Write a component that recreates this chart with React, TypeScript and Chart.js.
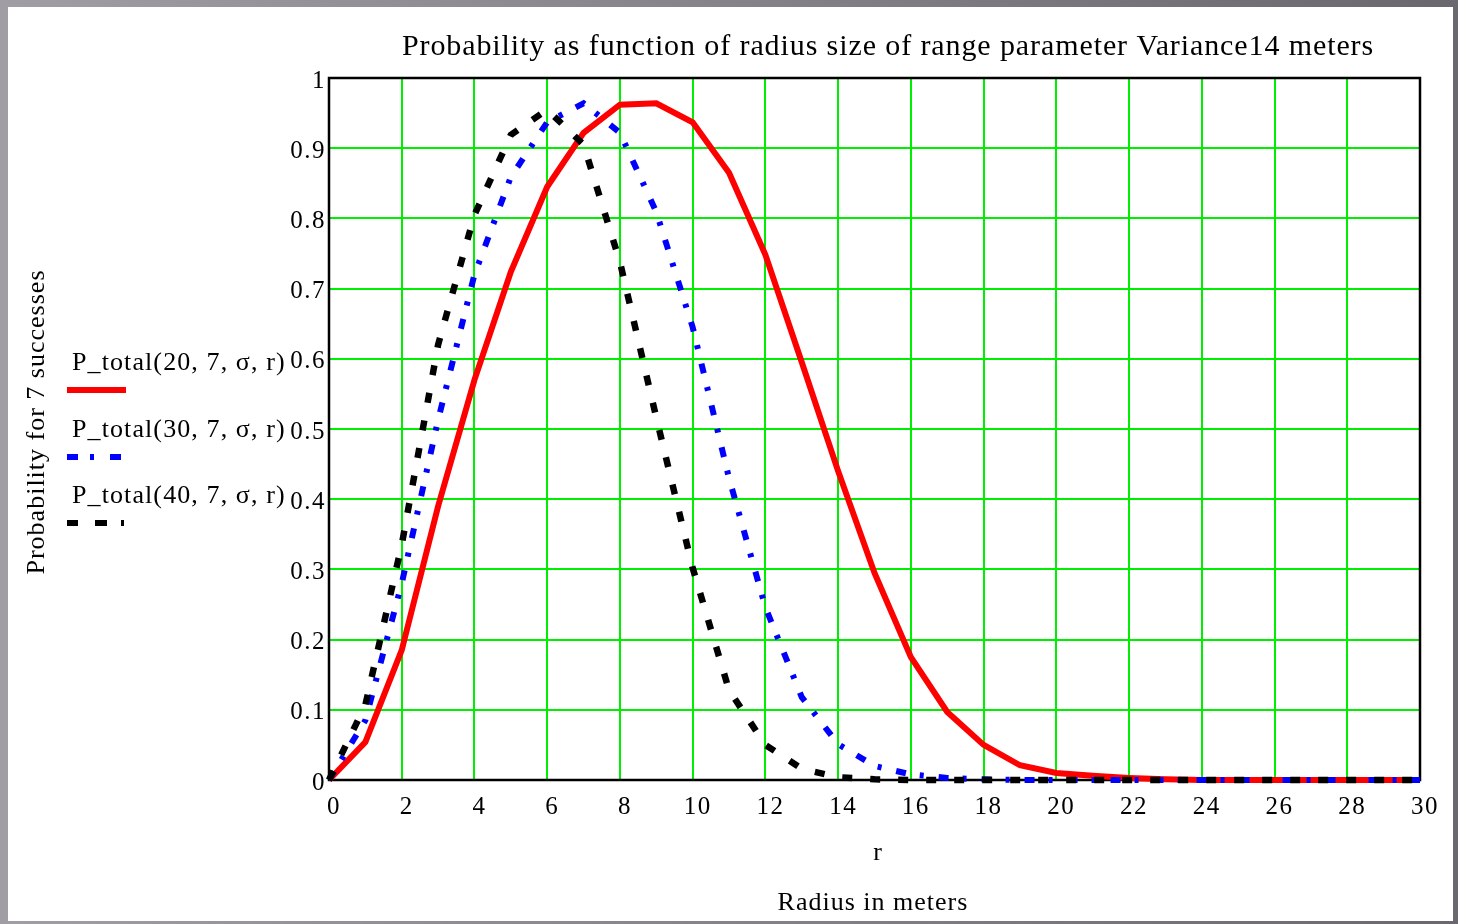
import React, { useEffect, useRef } from 'react';
import { Chart, registerables } from 'chart.js';

Chart.register(...registerables);

const RADIUS = [0, 1, 2, 3, 4, 5, 6, 7, 8, 9, 10, 11, 12, 13, 14, 15, 16, 17, 18, 19, 20, 21, 22, 23, 24, 25, 26, 27, 28, 29, 30];
const P_TOTAL_20 = [0, 0.054, 0.185, 0.39, 0.57, 0.724, 0.845, 0.922, 0.962, 0.964, 0.937, 0.865, 0.748, 0.595, 0.44, 0.295, 0.175, 0.097, 0.05, 0.021, 0.01, 0.006, 0.003, 0.001, 0, 0, 0, 0, 0, 0, 0];
const P_TOTAL_30 = [0, 0.085, 0.28, 0.513, 0.72, 0.859, 0.937, 0.964, 0.922, 0.809, 0.645, 0.43, 0.246, 0.118, 0.051, 0.02, 0.008, 0.003, 0.001, 0, 0, 0, 0, 0, 0, 0, 0, 0, 0, 0, 0];
const P_TOTAL_40 = [0, 0.107, 0.335, 0.62, 0.805, 0.919, 0.955, 0.905, 0.738, 0.516, 0.302, 0.128, 0.05, 0.016, 0.004, 0.001, 0, 0, 0, 0, 0, 0, 0, 0, 0, 0, 0, 0, 0, 0, 0];

const X_TICKS = [0, 2, 4, 6, 8, 10, 12, 14, 16, 18, 20, 22, 24, 26, 28, 30];
const Y_TICKS = [0, 0.1, 0.2, 0.3, 0.4, 0.5, 0.6, 0.7, 0.8, 0.9, 1];

const TITLE = 'Probability as function of radius size of range parameter Variance14 meters';
const Y_TITLE = 'Probability for 7 successes';
const X_SYMBOL = 'r';
const X_TITLE = 'Radius in meters';
const LEGEND_LABELS = ['P_total(20, 7, σ, r)', 'P_total(30, 7, σ, r)', 'P_total(40, 7, σ, r)'];

const SERIF = "'Liberation Serif', 'Times New Roman', serif";

export default function App() {
  const canvasRef = useRef<HTMLCanvasElement | null>(null);

  useEffect(() => {
    const canvas = canvasRef.current;
    if (!canvas) return;

    const decorPlugin = {
      id: 'decor',
      beforeDraw(chart: any) {
        (chart.ctx as any).letterSpacing = '1.5px';
      },
      beforeDatasetsDraw(chart: any) {
        const { ctx, chartArea } = chart;
        ctx.save();
        ctx.strokeStyle = '#000';
        ctx.lineWidth = 2.5;
        ctx.strokeRect(chartArea.left, chartArea.top, chartArea.right - chartArea.left, chartArea.bottom - chartArea.top);
        ctx.restore();
      },
      afterDraw(chart: any) {
        const ctx = chart.ctx as any;
        ctx.save();
        ctx.fillStyle = '#000';
        ctx.textBaseline = 'alphabetic';
        // title
        ctx.letterSpacing = '0.9px';
        ctx.font = `30px ${SERIF}`;
        ctx.textAlign = 'center';
        ctx.fillText(TITLE, 888, 55);
        // x titles
        ctx.letterSpacing = '1px';
        ctx.font = `26px ${SERIF}`;
        ctx.fillText(X_SYMBOL, 878, 860);
        ctx.fillText(X_TITLE, 873, 910);
        // y title
        ctx.save();
        ctx.translate(44, 422);
        ctx.rotate(-Math.PI / 2);
        ctx.textAlign = 'center';
        ctx.fillText(Y_TITLE, 0, 0);
        ctx.restore();
        // legend
        const baselines = [370, 437, 503];
        const lineYs = [390, 457, 523];
        const colors = ['#ff0000', '#0000ff', '#000000'];
        const dashes = [[], [11, 12, 4, 16], [11, 17, 12, 14, 3, 60]];
        const widths = [6, 6, 6];
        ctx.textAlign = 'left';
        ctx.letterSpacing = '1.1px';
        ctx.font = `26px ${SERIF}`;
        for (let i = 0; i < 3; i++) {
          ctx.fillStyle = '#000';
          ctx.fillText(LEGEND_LABELS[i], 72, baselines[i]);
          ctx.beginPath();
          ctx.setLineDash(dashes[i]);
          ctx.strokeStyle = colors[i];
          ctx.lineWidth = widths[i];
          ctx.lineCap = 'butt';
          ctx.moveTo(67, lineYs[i]);
          ctx.lineTo(126, lineYs[i]);
          ctx.stroke();
        }
        ctx.restore();
        ctx.letterSpacing = '0px';
      },
    };

    const toPoints = (vals: number[]) => RADIUS.map((r, i) => ({ x: r, y: vals[i] }));
    const tickFont = { family: SERIF, size: 25 };

    const chart = new Chart(canvas, {
      type: 'line',
      data: {
        datasets: [
          {
            label: LEGEND_LABELS[0],
            data: toPoints(P_TOTAL_20),
            borderColor: '#ff0000',
            borderWidth: 6,
            pointRadius: 0,
            tension: 0,
            clip: false as any,
            order: 2,
          },
          {
            label: LEGEND_LABELS[1],
            data: toPoints(P_TOTAL_30),
            borderColor: '#0000ff',
            borderWidth: 6,
            borderDash: [10, 14, 4, 15],
            borderCapStyle: 'butt',
            pointRadius: 0,
            tension: 0,
            clip: false as any,
            order: 1,
          },
          {
            label: LEGEND_LABELS[2],
            data: toPoints(P_TOTAL_40),
            borderColor: '#000000',
            borderWidth: 6.5,
            borderDash: [10, 18],
            borderCapStyle: 'butt',
            pointRadius: 0,
            tension: 0,
            clip: false as any,
            order: 0,
          },
        ],
      },
      options: {
        responsive: false,
        animation: false,
        events: [],
        layout: { padding: { left: 0, right: 38, top: 78, bottom: 0 } },
        plugins: {
          legend: { display: false },
          tooltip: { enabled: false },
          title: { display: false },
        },
        scales: {
          x: {
            type: 'linear',
            min: 0,
            max: 30,
            afterBuildTicks: (s: any) => {
              s.ticks = X_TICKS.map((v) => ({ value: v }));
            },
            afterFit: (s: any) => {
              s.height = 144;
            },
            ticks: {
              font: tickFont,
              color: '#000',
              padding: 12,
              labelOffset: 5,
              maxRotation: 0,
              autoSkip: false,
              callback: (v: any) => String(v),
            },
            grid: { color: '#00ee00', lineWidth: 2, drawTicks: false },
            border: { display: false },
          },
          y: {
            type: 'linear',
            min: 0,
            max: 1,
            afterBuildTicks: (s: any) => {
              s.ticks = Y_TICKS.map((v) => ({ value: v }));
            },
            afterFit: (s: any) => {
              s.width = 329;
            },
            ticks: {
              font: tickFont,
              color: '#000',
              padding: 3,
              labelOffset: 3,
              autoSkip: false,
              callback: (v: any) => String(Number(Number(v).toFixed(1))),
            },
            grid: { color: '#00ee00', lineWidth: 2, drawTicks: false },
            border: { display: false },
          },
        },
      } as any,
      plugins: [decorPlugin],
    });

    return () => chart.destroy();
  }, []);

  return (
    <div
      style={{
        position: 'fixed',
        left: 0,
        top: 0,
        width: 1458,
        height: 924,
        background: 'linear-gradient(to right, #a09ea4, #6a686e)',
        overflow: 'hidden',
      }}
    >
      <div style={{ position: 'absolute', left: 8, top: 7, width: 1445, height: 914, background: '#fff' }} />
      <canvas ref={canvasRef} width={1458} height={924} style={{ position: 'absolute', left: 0, top: 0 }} />
    </div>
  );
}
